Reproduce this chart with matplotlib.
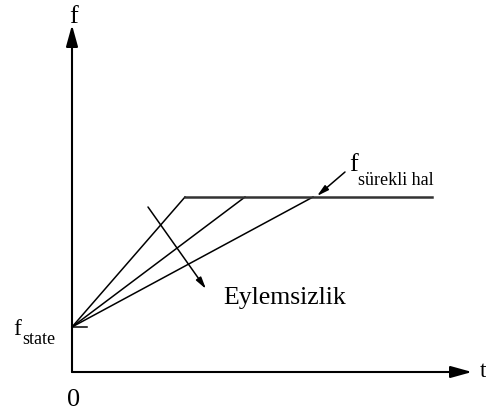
import matplotlib.pyplot as plt

plt.rcParams['font.family'] = ['Liberation Serif', 'DejaVu Serif']

# chart values (t, f)
f_state = 45
f_steady = 175
ramp_end_t = [113, 173, 241]
plateau_end_t = 360
t_max = 400
f_max = 347

fig = plt.figure(figsize=(4.86, 4.14), dpi=100)
ax = fig.add_axes([0, 0, 1, 1])
ax.set_xlim(-72, 414)
ax.set_ylim(-41, 373)
ax.axis('off')

big_head = '-|>,head_length=13,head_width=3.6'
small_head = '-|>,head_length=7,head_width=1.8'

# axes with arrows
ax.annotate('', xy=(t_max, 0), xytext=(0, 0),
            arrowprops=dict(arrowstyle=big_head, color='black', lw=1.5, mutation_scale=1, shrinkA=0, shrinkB=0))
ax.annotate('', xy=(0, f_max), xytext=(0, 0),
            arrowprops=dict(arrowstyle=big_head, color='black', lw=1.5, mutation_scale=1, shrinkA=0, shrinkB=0))

# ramps to steady state
for te in ramp_end_t:
    ax.plot([0, te], [f_state, f_steady], color='black', lw=1.1)
ax.plot([ramp_end_t[0], plateau_end_t], [f_steady, f_steady], color='#333333', lw=1.8)
ax.plot([0, 15], [f_state, f_state], color='black', lw=1.1)

# inertia arrow
ax.annotate('', xy=(134, 83), xytext=(76, 165),
            arrowprops=dict(arrowstyle=small_head, color='black', lw=1.1, mutation_scale=1, shrinkA=0, shrinkB=0))
ax.text(151, 69, 'Eylemsizlik', fontsize=18.5, ha='left', va='baseline')

# steady state pointer
ax.annotate('', xy=(245, 176), xytext=(273, 200),
            arrowprops=dict(arrowstyle=small_head, color='black', lw=1.1, mutation_scale=1, shrinkA=0, shrinkB=0))
ax.text(277, 202, 'f', fontsize=19, ha='left', va='baseline')
ax.text(286, 188, 'sürekli hal', fontsize=13, ha='left', va='baseline')

# labels
ax.text(2, 350, 'f', fontsize=19, ha='center', va='baseline')
ax.text(408, -4, 't', fontsize=17, ha='left', va='baseline')
ax.text(1.5, -33, '0', fontsize=19, ha='center', va='baseline')
ax.text(-59, 38, 'f', fontsize=17, ha='left', va='baseline')
ax.text(-50, 29, 'state', fontsize=13, ha='left', va='baseline')

fig.savefig('out.png', dpi=100)
